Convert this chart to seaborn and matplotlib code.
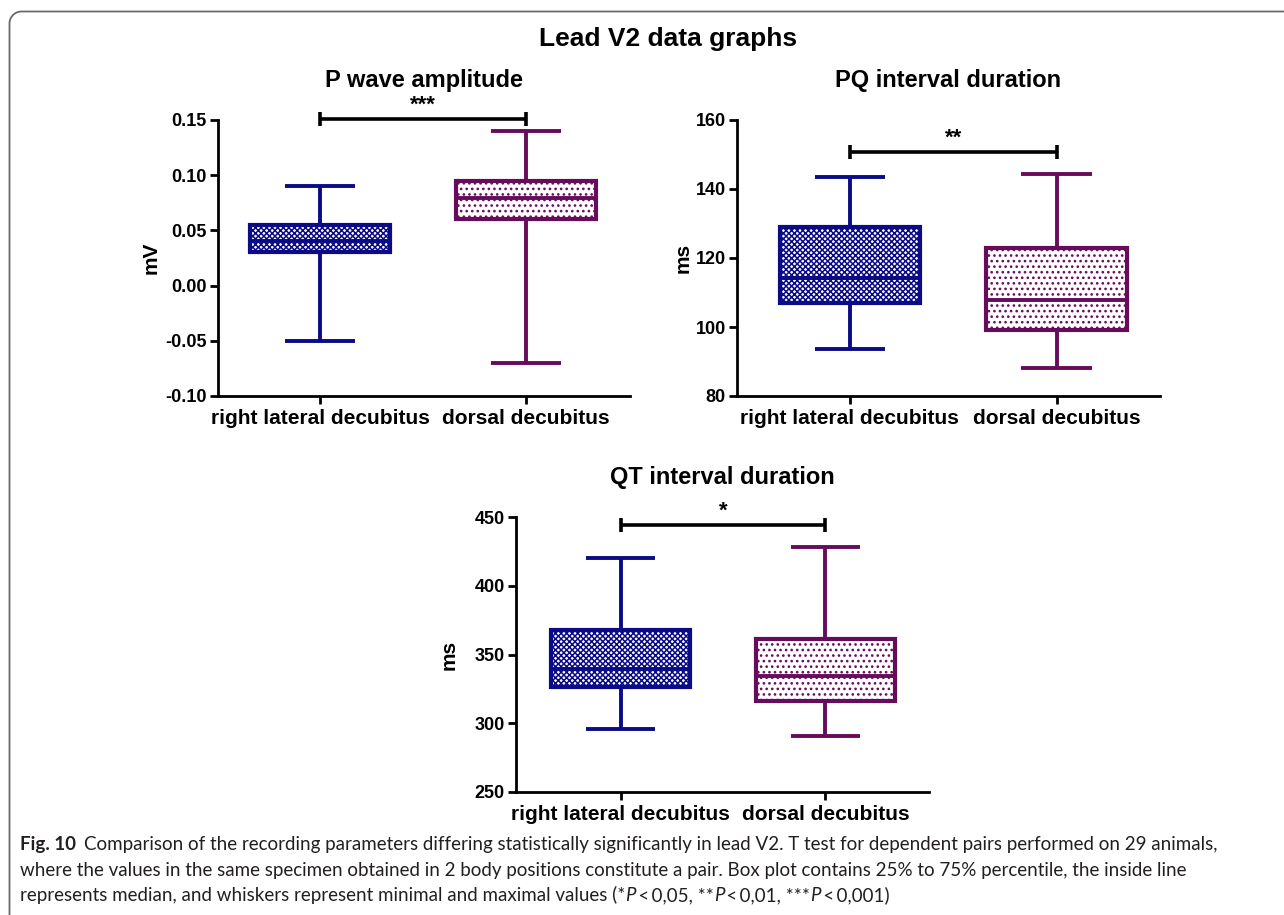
import numpy as np
import pandas as pd
import matplotlib
matplotlib.use("Agg")
import matplotlib.pyplot as plt
import seaborn as sns
from matplotlib.lines import Line2D
from matplotlib.transforms import IdentityTransform
from matplotlib.ticker import FormatStrFormatter, MultipleLocator

# ---------------- data ----------------
positions = ["right lateral decubitus", "dorsal decubitus"]
# five-number summaries: min, Q1, median, Q3, max
p_wave_right = [-0.050, 0.030, 0.040, 0.055, 0.090]
p_wave_dorsal = [-0.070, 0.060, 0.079, 0.095, 0.140]
pq_right = [93.5, 107.0, 114.3, 129.0, 143.5]
pq_dorsal = [88.0, 99.0, 107.7, 123.0, 144.3]
qt_right = [296.0, 326.5, 339.5, 368.0, 420.0]
qt_dorsal = [290.5, 316.0, 334.5, 361.5, 428.5]

panel_titles = ["P wave amplitude", "PQ interval duration", "QT interval duration"]
y_labels = ["mV", "ms", "ms"]
y_limits = [(-0.10, 0.15), (80, 160), (250, 450)]
y_steps = [0.05, 20, 50]
sig_levels = [0.151, 150.7, 444.2]
sig_labels = ["***", "**", "*"]

main_title = "Lead V2 data graphs"
caption_bold = "Fig. 10"
caption_line1 = "Comparison of the recording parameters differing statistically significantly in lead V2. T test for dependent pairs performed on 29 animals,"
caption_line2 = "where the values in the same specimen obtained in 2 body positions constitute a pair. Box plot contains 25% to 75% percentile, the inside line"
caption_line3 = ["represents median, and whiskers represent minimal and maximal values (*", "P", "\u2009<\u20090,05, **", "P", "\u2009<\u20090,01, ***", "P", "\u2009<\u20090,001)"]

# ---------------- style ----------------
BLUE = "#0b0b88"
PURPLE = "#670b5b"
colors = [BLUE, PURPLE]
hatches = ["xxxxxx", "..."]

sns.set_style("ticks")
plt.rcParams["font.family"] = ["Liberation Sans", "DejaVu Sans"]
plt.rcParams["font.weight"] = "bold"
plt.rcParams["axes.unicode_minus"] = False
plt.rcParams["hatch.linewidth"] = 1.1
plt.rcParams["text.color"] = "black"
plt.rcParams["axes.labelcolor"] = "black"
plt.rcParams["xtick.color"] = "black"
plt.rcParams["ytick.color"] = "black"

W, H = 1284, 915
fig = plt.figure(figsize=(W / 100, H / 100), dpi=100)

def px_axes(left, right, top, bottom):
    return fig.add_axes([left / W, 1 - bottom / H, (right - left) / W, (bottom - top) / H])

axes = [
    px_axes(218, 630, 120, 396),
    px_axes(737, 1160, 120, 396),
    px_axes(516, 929, 517, 792),
]
xlims = [(-0.495, 1.505), (-0.546, 1.5), (-0.51, 1.505)]
label_x = [-0.14, -0.106, -0.138]

datasets = [(p_wave_right, p_wave_dorsal), (pq_right, pq_dorsal), (qt_right, qt_dorsal)]

for i, ax in enumerate(axes):
    right, dorsal = datasets[i]
    df = pd.DataFrame({
        "position": [positions[0]] * len(right) + [positions[1]] * len(dorsal),
        "value": list(right) + list(dorsal),
    })
    sns.boxplot(data=df, x="position", y="value", hue="position", order=positions,
                hue_order=positions, palette=colors, fill=True, whis=(0, 100),
                width=0.68, linewidth=2.8, legend=False, ax=ax)
    # recolour boxes by their x position
    for patch in ax.patches:
        verts = patch.get_path().vertices
        k = int(round(np.clip(verts[:, 0].mean(), 0, 1)))
        patch.set_facecolor("white")
        patch.set_edgecolor(colors[k])
        patch.set_hatch(hatches[k])
        patch.set_linewidth(3.0)
    for line in ax.lines:
        xd = np.asarray(line.get_xdata(), dtype=float)
        if xd.size == 0:
            continue
        k = int(round(np.clip(xd.mean(), 0, 1)))
        line.set_color(colors[k])
        line.set_solid_capstyle("butt")

    ax.set_xlim(*xlims[i])
    ax.set_ylim(*y_limits[i])
    ax.yaxis.set_major_locator(MultipleLocator(y_steps[i]))
    if i == 0:
        ax.yaxis.set_major_formatter(FormatStrFormatter("%.2f"))
    else:
        ax.yaxis.set_major_formatter(FormatStrFormatter("%d"))
    ax.set_xlabel("")
    ax.set_ylabel(y_labels[i], fontsize=15, fontweight="bold")
    ax.yaxis.set_label_coords(label_x[i], 0.5)
    ax.set_title(panel_titles[i], fontsize=17, fontweight="bold", pad=24)
    for s in ["top", "right"]:
        ax.spines[s].set_visible(False)
    for s in ["left", "bottom"]:
        ax.spines[s].set_linewidth(2.0)
        ax.spines[s].set_color("black")
    ax.tick_params(axis="y", length=6, width=2, labelsize=13, pad=2, color="black")
    ax.tick_params(axis="x", length=6, width=2, labelsize=15, pad=3, color="black")
    for lab in ax.get_xticklabels() + ax.get_yticklabels():
        lab.set_fontweight("bold")
    ax.set_facecolor("white")

    # significance bracket
    y0, y1 = y_limits[i]
    cap = 0.025 * (y1 - y0)
    yb = sig_levels[i]
    ax.plot([0, 1], [yb, yb], color="black", lw=2.6, clip_on=False, solid_capstyle="butt")
    for xb in (0, 1):
        ax.plot([xb, xb], [yb - cap, yb + cap], color="black", lw=2.6, clip_on=False, solid_capstyle="butt")
    ax.annotate(sig_labels[i], xy=(0.5, yb), xytext=(0, 2.5), textcoords="offset points",
                ha="center", va="bottom", fontsize=16, fontweight="bold", annotation_clip=False)

fig.text(668 / W, 1 - 46 / H, main_title, ha="center", va="baseline", fontsize=19, fontweight="bold")

# frame (rounded top-left corner, open to the right and bottom)
r = 12.0
x0, ytop = 9.5, H - 11.5
theta = np.linspace(np.pi, np.pi / 2, 20)
fx = np.concatenate([[x0], x0 + r + r * np.cos(theta), [W + 20]])
fy = np.concatenate([[-20], ytop - r + r * np.sin(theta), [ytop]])
fig.add_artist(Line2D(fx, fy, transform=IdentityTransform(), color="#6a6a6a", lw=1.3))

# caption
cap_fam = ["Lato", "DejaVu Sans"]
cap_col = "#231f20"
probe = fig.text(0, 0, caption_line2, fontsize=12, fontweight="normal", family=cap_fam)
fig.canvas.draw()
w12 = probe.get_window_extent(renderer=fig.canvas.get_renderer()).width
probe.remove()
cap_size = 12 * 1166 / w12

t = fig.text(20 / W, 1 - 850 / H, caption_bold, ha="left", va="baseline", fontsize=cap_size,
             fontweight="bold", family=cap_fam, color=cap_col)
ax0 = axes[0]
ax0.annotate(caption_line1, xy=(1, 0), xycoords=t, xytext=(6, 0), textcoords="offset points",
             ha="left", va="bottom", fontsize=cap_size, fontweight="normal", family=cap_fam,
             color=cap_col, annotation_clip=False)
fig.text(20 / W, 1 - 876 / H, caption_line2, ha="left", va="baseline", fontsize=cap_size,
         fontweight="normal", family=cap_fam, color=cap_col)
prev = fig.text(20 / W, 1 - 901 / H, caption_line3[0], ha="left", va="baseline", fontsize=cap_size,
                fontweight="normal", family=cap_fam, color=cap_col)
for piece in caption_line3[1:]:
    prev = ax0.annotate(piece, xy=(1, 0), xycoords=prev, xytext=(0, 0), textcoords="offset points",
                        ha="left", va="bottom", fontsize=cap_size, fontweight="normal",
                        fontstyle="italic" if piece == "P" else "normal",
                        family=cap_fam, color=cap_col, annotation_clip=False)

fig.savefig("out.png", dpi=100, facecolor="white")
